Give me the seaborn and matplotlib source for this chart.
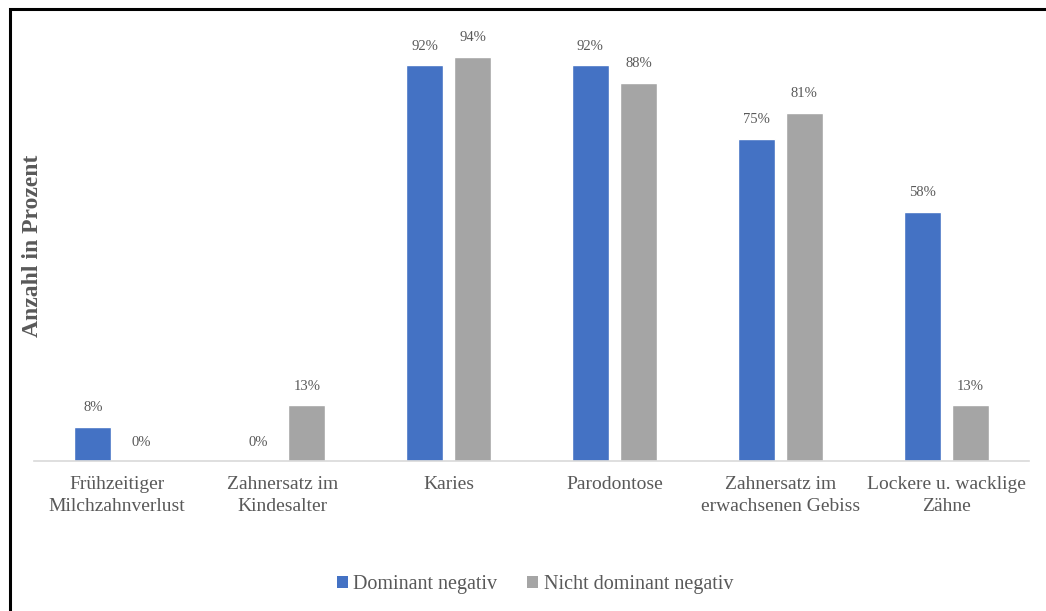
import matplotlib
matplotlib.use("Agg")
import matplotlib.pyplot as plt
from matplotlib.patches import Rectangle, Patch
import seaborn as sns
import pandas as pd

categories = [
    "Frühzeitiger\nMilchzahnverlust",
    "Zahnersatz im\nKindesalter",
    "Karies",
    "Parodontose",
    "Zahnersatz im\nerwachsenen Gebiss",
    "Lockere u. wacklige\nZähne",
]
series_names = ["Dominant negativ", "Nicht dominant negativ"]
dominant = [8, 0, 92, 92, 75, 58]
nicht_dominant = [0, 13, 94, 88, 81, 13]
colors = ["#4472C4", "#A5A5A5"]

df = pd.DataFrame({
    "Kategorie": categories * 2,
    "Gruppe": [series_names[0]] * len(categories) + [series_names[1]] * len(categories),
    "Wert": dominant + nicht_dominant,
})

sns.set_theme(style="white")
plt.rcParams["font.family"] = ["Liberation Serif", "DejaVu Serif"]
text_color = "#595959"

fig = plt.figure(figsize=(10.46, 6.11), dpi=100)
ax = fig.add_axes([34 / 1046, 1 - 461 / 611, 995 / 1046, 430 / 611])

sns.barplot(data=df, x="Kategorie", y="Wert", hue="Gruppe", order=categories,
            hue_order=series_names, palette=colors, width=0.58, gap=0.23,
            saturation=1, ax=ax, legend=False)

for container in ax.containers:
    ax.bar_label(container, labels=[f"{int(v)}%" for v in container.datavalues],
                 padding=9, fontsize=10.5, color=text_color)

ax.set_ylim(0, 100)
ax.set_xlim(-0.5, len(categories) - 0.5)
ax.set_yticks([])
ax.set_xlabel("")
ax.set_ylabel("Anzahl in Prozent", fontsize=17, fontweight="bold", color=text_color, labelpad=0)
ax.yaxis.set_label_coords(0.009, 0.5)
for side in ["top", "right", "left"]:
    ax.spines[side].set_visible(False)
ax.spines["bottom"].set_color("#D9D9D9")
ax.spines["bottom"].set_linewidth(1.2)
ax.tick_params(axis="x", length=0, pad=11, labelsize=14, labelcolor=text_color)
for lbl in ax.get_xticklabels():
    lbl.set_linespacing(1.35)

handles = [Patch(facecolor=c, edgecolor="none") for c in colors]
fig.legend(handles, series_names, loc="center", bbox_to_anchor=(535 / 1046, 1 - 585 / 611),
           ncol=2, frameon=False, fontsize=14.5, labelcolor=text_color,
           handlelength=0.55, handleheight=0.55, handletextpad=0.25, columnspacing=1.5)

# outer frame around the chart
fig.add_artist(Rectangle((10 / 1046, -0.2), 1.2, 1 - 9 / 611 + 0.2, transform=fig.transFigure,
                         fill=False, edgecolor="black", linewidth=2.2))

fig.savefig("out.png", dpi=100)
